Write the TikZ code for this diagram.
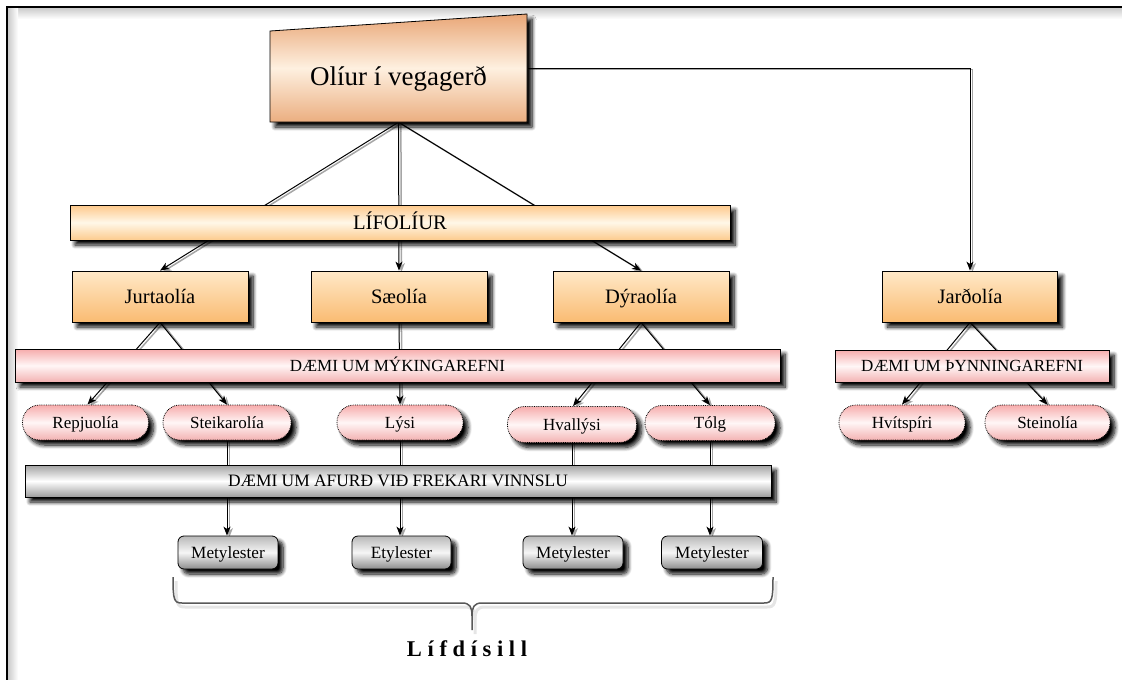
\documentclass[tikz,border=0pt]{standalone}
\usepackage{fontspec}
\setmainfont{Liberation Serif}
\newfontfamily\spacedfont{Liberation Serif}[LetterSpace=25]
\usetikzlibrary{shadows.blur,arrows.meta,calc}
\pgfdeclarelayer{bg}
\pgfsetlayers{bg,main}
\definecolor{orT}{HTML}{E9A676}
\definecolor{orM}{HTML}{FEF0E0}
\definecolor{orB}{HTML}{EBAE80}
\definecolor{barT}{HTML}{FDC88A}
\definecolor{barM}{HTML}{FFF7E8}
\definecolor{barB}{HTML}{FCCB8E}
\definecolor{bxT}{HTML}{FFE9C8}
\definecolor{bxB}{HTML}{FABB72}
\definecolor{pkT}{HTML}{F6ACAC}
\definecolor{pkM}{HTML}{FFF6F6}
\definecolor{pkB}{HTML}{F3B2B2}
\definecolor{gyT}{HTML}{A2A2A2}
\definecolor{gyM}{HTML}{FFFFFF}
\definecolor{gyB}{HTML}{9C9C9C}
\definecolor{mtT}{HTML}{B8B8B8}
\definecolor{mtM}{HTML}{F6F6F6}
\definecolor{mtB}{HTML}{8C8C8C}
\tikzset{
  shad/.style={blur shadow={shadow xshift=5pt,shadow yshift=-5pt,shadow blur radius=4pt,shadow blur steps=8,shadow opacity=100}},
  boxbase/.style={draw=black,line width=0.8pt,shad,inner sep=0pt,align=center,text depth=0pt},
  topshape/.style={draw=black,line width=0.8pt,shad,top color=orT,bottom color=orB,middle color=orM},
  topnode/.style={inner sep=0pt,minimum width=257pt,minimum height=90pt,text height=17.9pt,text depth=0pt,font=\fontsize{27}{30}\selectfont},
  lifbar/.style={boxbase,top color=barT,bottom color=barB,middle color=barM,minimum width=660pt,minimum height=35pt,text height=13.6pt,font=\fontsize{20.6}{22}\selectfont},
  oilbox/.style={boxbase,top color=bxT,bottom color=bxB,minimum width=176pt,minimum height=51pt,text height=13.6pt,font=\fontsize{20.5}{22}\selectfont},
  pinkbar/.style={boxbase,top color=pkT,bottom color=pkB,middle color=pkM,minimum height=33pt,text height=11.25pt,font=\fontsize{17}{19}\selectfont},
  pill/.style={boxbase,densely dotted,rounded corners=17pt,top color=pkT,bottom color=pkB,middle color=pkM,minimum width=126pt,minimum height=35pt,text height=11.25pt,font=\fontsize{17}{19}\selectfont},
  graybar/.style={boxbase,top color=gyT,bottom color=gyB,middle color=gyM,minimum width=746pt,minimum height=32pt,text height=11.5pt,font=\fontsize{17.4}{19}\selectfont},
  metbox/.style={boxbase,rounded corners=6pt,top color=mtT,bottom color=mtB,middle color=mtM,minimum width=100pt,minimum height=33pt,text height=11.4pt,font=\fontsize{17.2}{19}\selectfont},
  conn/.style={line width=1pt,draw=black,preaction={draw=black!35,line width=1.5pt,transform canvas={xshift=2.4pt,yshift=-1.5pt}}},
  arr/.style={conn,-{Stealth[length=9pt,width=7pt,inset=2.5pt]}},
  bracepath/.style={draw=black!65,line width=1.5pt},
}
\begin{document}
\begin{tikzpicture}[x=1pt,y=-1pt]
\useasboundingbox (0,0) rectangle (1122,680);
\shade[top color=black!22,bottom color=white] (6,7) rectangle (1122,19);
\shade[left color=black!22,right color=white] (7,7) rectangle (18,680);
\draw[line width=2pt] (6.5,680) -- (6.5,6.5) -- (1122,6.5);

% top box
\path[topshape] (270,31) -- (527,14) -- (527,122) -- (270,122) -- cycle;
\node[topnode] (top) at (398.5,77) {Olíur í vegagerð};
\coordinate (topr) at (527,68);
\coordinate (bend) at (970,68);

% level boxes
\node[lifbar] (lif) at (400,222.5) {LÍFOLÍUR};
\node[oilbox] (jurt) at (160,296.5) {Jurtaolía};
\node[oilbox] (sae) at (399,296.5) {Sæolía};
\node[oilbox] (dyr) at (641,296.5) {Dýraolía};
\node[oilbox,minimum width=175pt] (jard) at (970,296.5) {Jarðolía};

\node[pinkbar,minimum width=765pt] (myk) at (397.5,365.5) {DÆMI UM MÝKINGAREFNI};
\node[pinkbar,minimum width=274pt,minimum height=32pt] (thyn) at (972,366) {DÆMI UM ÞYNNINGAREFNI};

\node[pill,minimum width=126pt] (repj) at (85.5,422.5) {Repjuolía};
\node[pill,minimum width=128pt] (steik) at (227,422.5) {Steikarolía};
\node[pill] (lysi) at (400,422.5) {Lýsi};
\node[pill,minimum width=129pt,minimum height=36pt] (hval) at (572,424.5) {Hvallýsi};
\node[pill,minimum width=130pt] (tolg) at (710,423) {Tólg};
\node[pill] (hvit) at (902,422.5) {Hvítspíri};
\node[pill,minimum width=125pt] (stein) at (1047.5,422.5) {Steinolía};

\node[graybar] (afurd) at (398,481) {DÆMI UM AFURÐ VIÐ FREKARI VINNSLU};

\node[metbox] (met1) at (228,552.5) {Metylester};
\node[metbox,minimum width=99pt] (ety) at (401.5,552.5) {Etylester};
\node[metbox] (met2) at (573,552.5) {Metylester};
\node[metbox,minimum width=101pt] (met3) at (712,552.5) {Metylester};

% brace
\coordinate (bl) at (173,577);
\coordinate (br) at (773,577);
\coordinate (btip) at (472,630);
\draw[black!10,line width=3pt,transform canvas={xshift=3pt,yshift=-4pt}] (bl) .. controls (173,600) and (174,603) .. (182,603) -- (462,603) .. controls (470,603) and (472,607) .. (472,616) -- (btip);
\draw[black!10,line width=3pt,transform canvas={xshift=3pt,yshift=-4pt}] (br) .. controls (773,600) and (772,603) .. (764,603) -- (482,603) .. controls (474,603) and (472,607) .. (472,616);
\draw[bracepath] (bl) .. controls (173,600) and (174,603) .. (182,603) -- (462,603) .. controls (470,603) and (472,607) .. (472,616) -- (btip);
\draw[bracepath] (br) .. controls (773,600) and (772,603) .. (764,603) -- (482,603) .. controls (474,603) and (472,607) .. (472,616);

% label
\node[font=\spacedfont\bfseries\fontsize{22.5}{24}\selectfont] (lifd) at (467,649) {Lífdísill};

% connectors
\begin{pgfonlayer}{bg}
\draw[arr] (top.south) -- (jurt.north);
\draw[arr] (top.south) -- (sae.north);
\draw[arr] (top.south) -- (dyr.north);
\draw[arr] (topr) -- (bend) -- (jard.north);
\draw[arr] (jurt.south) -- ($(repj.north)+(2,0)$);
\draw[arr] (jurt.south) -- (steik.north);
\draw[arr] (sae.south) -- (lysi.north);
\draw[arr] (dyr.south) -- ($(hval.north)+(1,0)$);
\draw[arr] (dyr.south) -- (tolg.north);
\draw[arr] (jard.south) -- (hvit.north);
\draw[arr] (jard.south) -- (stein.north);
\draw[arr] (steik.south) -- (steik.south |- met1.north);
\draw[arr] (lysi.south) -- (lysi.south |- ety.north);
\draw[arr] (hval.south) -- (hval.south |- met2.north);
\draw[arr] (tolg.south) -- (tolg.south |- met3.north);
\end{pgfonlayer}
\end{tikzpicture}
\end{document}
